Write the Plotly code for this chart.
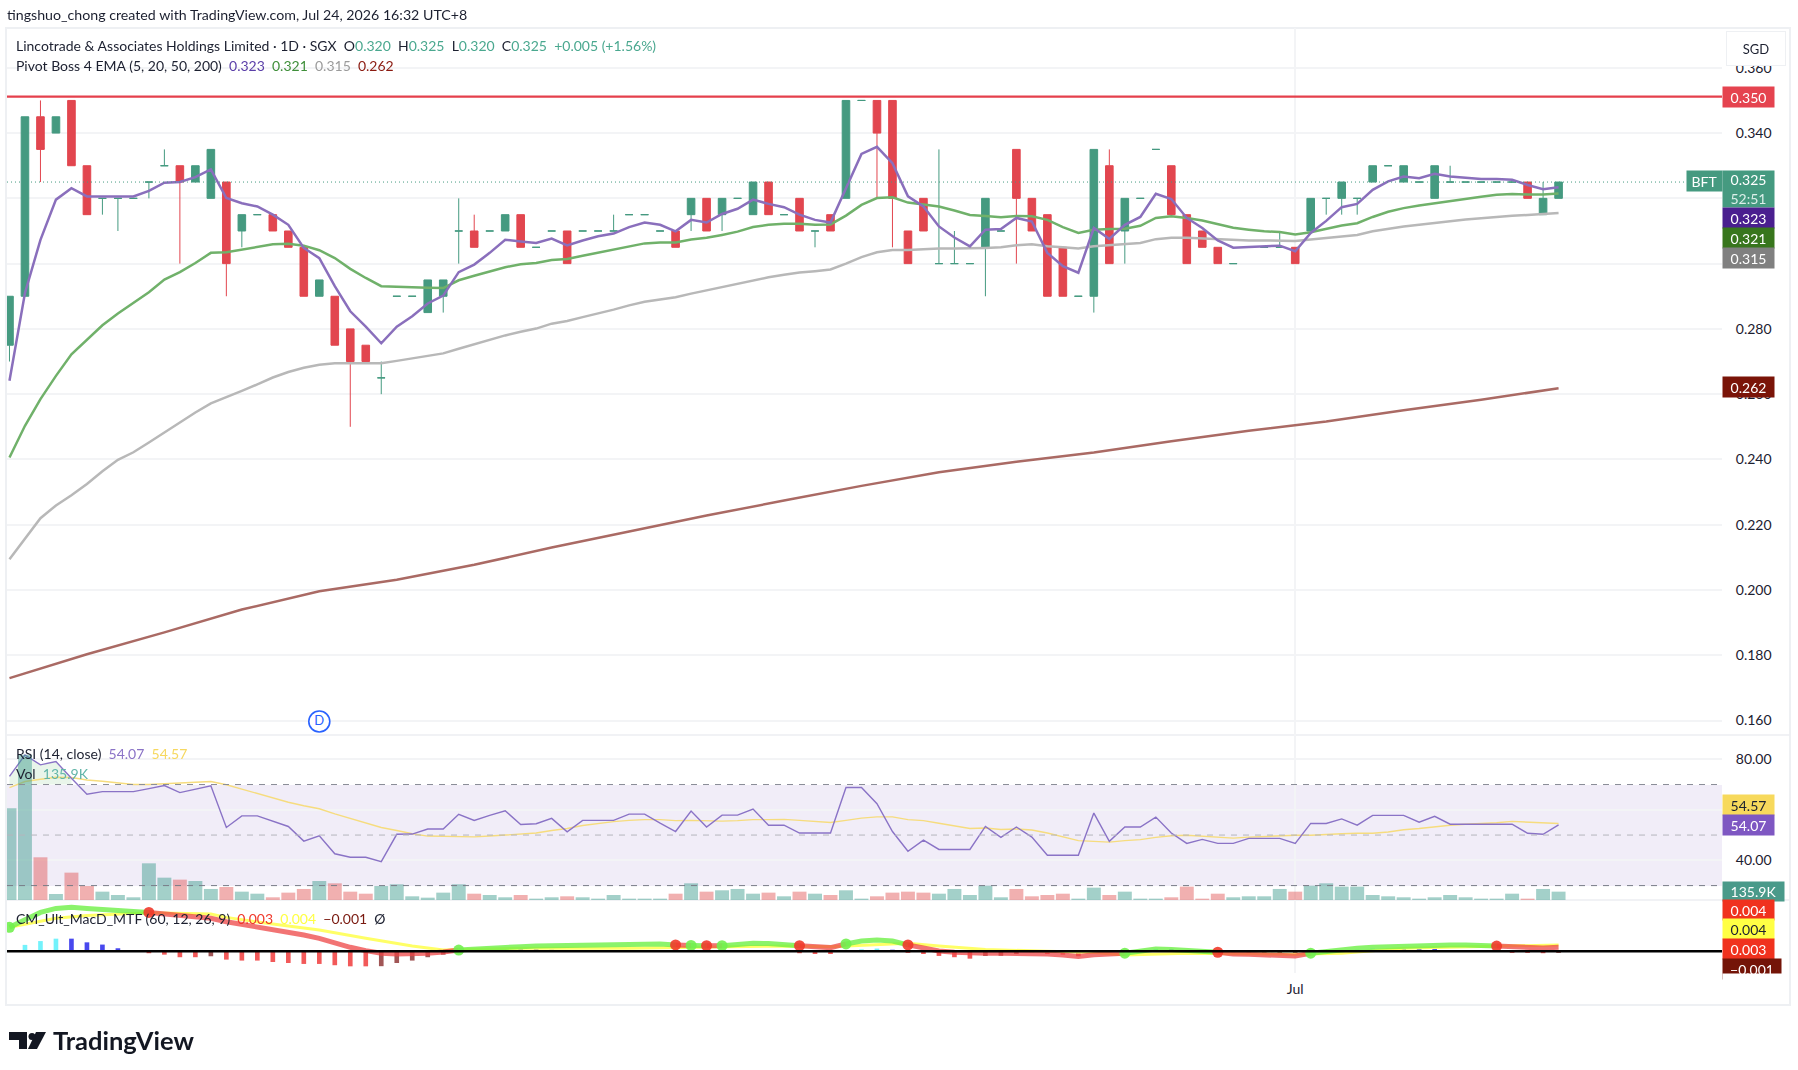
import plotly.graph_objects as go

# ---------- data ----------
opens = [.275,.29,.345,.34,.35,.33,.32,.32,.32,.325,.33,.33,.325,.32,.325,.31,.315,.315,.31,.305,
         .29,.29,.28,.275,.265,.29,.29,.285,.29,.31,.31,.31,.31,.315,.305,.31,.31,.31,.31,.31,
         .315,.315,.31,.31,.315,.32,.315,.32,.315,.325,.315,.32,.31,.315,.32,.35,.35,.35,.31,.32,
         .30,.30,.30,.305,.31,.335,.32,.315,.305,.29,.29,.33,.31,.32,.335,.33,.315,.31,.305,.30,
         .305,.305,.305,.305,.31,.32,.32,.32,.325,.33,.325,.325,.32,.325,.325,.325,.325,.325,.325,.315,.32]
highs = [.29,.345,.35,.345,.35,.33,.32,.32,.32,.325,.335,.33,.33,.335,.325,.315,.315,.315,.31,.305,
         .295,.29,.28,.275,.27,.29,.29,.295,.295,.32,.315,.31,.315,.315,.305,.31,.31,.31,.31,.315,
         .315,.315,.31,.31,.32,.32,.32,.32,.325,.325,.315,.32,.31,.315,.35,.35,.35,.35,.31,.32,
         .335,.31,.30,.32,.31,.335,.32,.315,.305,.29,.335,.335,.32,.32,.335,.33,.315,.31,.305,.30,
         .305,.305,.31,.305,.32,.32,.325,.32,.33,.33,.33,.325,.33,.33,.325,.325,.325,.325,.325,.325,.325]
lows = [.27,.29,.325,.34,.33,.315,.315,.31,.32,.32,.33,.30,.325,.32,.29,.305,.315,.31,.305,.29,
        .29,.275,.25,.27,.26,.29,.29,.285,.285,.30,.305,.31,.31,.305,.305,.31,.30,.31,.31,.31,
        .315,.315,.31,.305,.31,.31,.31,.32,.315,.315,.315,.31,.305,.31,.32,.35,.32,.305,.30,.31,
        .30,.30,.30,.29,.31,.30,.31,.29,.29,.29,.285,.30,.30,.32,.335,.315,.30,.305,.30,.30,
        .305,.305,.305,.30,.31,.315,.315,.315,.325,.33,.325,.325,.32,.325,.325,.325,.325,.325,.32,.315,.32]
closes = [.29,.345,.335,.345,.33,.315,.32,.32,.32,.325,.33,.325,.33,.335,.30,.315,.315,.31,.305,.29,
          .295,.275,.27,.27,.265,.29,.29,.295,.295,.31,.305,.31,.315,.305,.305,.31,.30,.31,.31,.31,
          .315,.315,.31,.305,.32,.31,.32,.32,.325,.315,.315,.31,.31,.31,.35,.35,.34,.32,.30,.31,
          .30,.30,.30,.32,.31,.32,.31,.29,.29,.29,.335,.30,.32,.32,.335,.315,.30,.305,.30,.30,
          .305,.305,.305,.30,.32,.32,.325,.32,.33,.33,.33,.325,.33,.325,.325,.325,.325,.325,.32,.32,.325]

ema5 = [.2641,.2910,.3073,.3196,.3231,.3206,.3206,.3206,.3206,.3223,.3248,.3250,.3265,.3289,.3201,.3185,.3175,.3150,.3119,.3048,
        .3017,.2931,.2854,.2807,.2756,.2807,.2839,.2878,.2902,.2974,.2997,.3033,.3073,.3068,.3063,.3077,.3056,.3071,.3084,.3092,
        .3112,.3126,.3119,.3099,.3134,.3126,.3152,.3168,.3196,.3183,.3173,.3150,.3134,.3126,.3231,.3336,.3358,.3308,.3206,.3175,
        .3114,.3080,.3053,.3104,.3106,.3140,.3129,.3033,.2992,.2972,.3109,.3076,.3119,.3143,.3214,.3198,.3140,.3109,.3071,.3049,
        .3051,.3053,.3055,.3038,.3094,.3131,.3173,.3183,.3226,.3252,.3267,.3262,.3275,.3267,.3262,.3259,.3259,.3257,.3241,.3228,.3234]
ema20 = [.2406,.2503,.2585,.2656,.2722,.2768,.2811,.2847,.2880,.2912,.2951,.2974,.3002,.3033,.3035,.3043,.3053,.3059,.3061,.3055,
         .3041,.3017,.2984,.2956,.2931,.2929,.2926,.2926,.2925,.2949,.2963,.2977,.2989,.2998,.3002,.3011,.3014,.3024,.3033,.3043,
         .3053,.3062,.3065,.3065,.3074,.3079,.3088,.3098,.3112,.3119,.3122,.3122,.3119,.3120,.3147,.3180,.3201,.3203,.3187,.3182,
         .3175,.3163,.3149,.3146,.3142,.3146,.3145,.3134,.3112,.3094,.3104,.3106,.3107,.3116,.3140,.3145,.3140,.3132,.3120,.3110,
         .3104,.3099,.3097,.3089,.3096,.3106,.3117,.3124,.3143,.3159,.3170,.3178,.3185,.3193,.3199,.3205,.3211,.3213,.3212,.3212,.3215]
ema50 = [.2094,.2157,.2220,.2259,.2290,.2325,.2364,.2399,.2422,.2452,.2483,.2513,.2544,.2572,.2590,.2610,.2630,.2651,.2668,.2681,
         .2690,.2695,.2695,.2695,.2695,.2702,.2709,.2717,.2725,.2739,.2753,.2766,.2780,.2791,.2801,.2816,.2824,.2836,.2847,.2859,
         .2872,.2883,.2890,.2897,.2908,.2918,.2928,.2938,.2949,.2958,.2966,.2973,.2977,.2982,.3000,.3020,.3035,.3042,.3042,.3045,
         .3046,.3046,.3046,.3048,.3050,.3056,.3059,.3053,.3050,.3046,.3053,.3056,.3058,.3063,.3075,.3079,.3079,.3077,.3073,.3071,
         .3071,.3071,.3071,.3069,.3074,.3079,.3084,.3088,.3099,.3107,.3114,.3119,.3125,.3131,.3135,.3139,.3144,.3147,.3149,.3152,.3155]
ema200_bars = list(range(0, 101, 5))
ema200 = [.1730,.1803,.1870,.1940,.1996,.2031,.2077,.2130,.2179,.2228,.2274,.2319,.2361,.2393,.2421,.2456,.2488,.2516,.2551,.2583,.2618]

rsi = [73.2,81.7,77.8,79.1,72.5,66.2,67.2,67.2,67.2,68.4,69.6,66.8,68.3,69.5,53.0,57.6,57.6,55.4,53.4,47.6,
       49.7,42.6,41.2,41.2,39.5,50.3,50.4,52.4,52.4,58.2,55.8,57.8,59.6,54.2,54.5,56.6,51.3,55.8,55.8,55.8,
       58.3,58.3,54.7,51.4,59.5,53.2,57.9,57.9,60.3,53.9,53.9,50.8,50.8,50.8,68.8,68.8,62.4,51.4,43.6,48.0,
       44.3,44.3,44.3,53.4,49.1,53.2,49.2,42.0,42.0,42.0,58.7,47.5,53.2,53.2,57.1,50.8,46.7,48.3,46.7,46.7,
       48.7,48.7,48.7,46.7,54.6,54.6,56.4,53.9,57.8,57.8,57.8,55.1,57.4,54.3,54.3,54.2,54.3,54.3,50.7,50.3,54.07]
rsi_ma = [68.8,71.2,72.1,72.9,72.8,71.8,71.3,70.5,70.0,70.0,70.3,70.5,70.8,71.2,69.9,68.2,66.3,64.6,63.0,61.6,
          60.4,58.4,56.7,54.7,53.0,51.8,50.5,49.6,49.5,49.3,49.3,49.6,50.0,50.5,50.8,51.8,52.6,53.8,54.7,55.3,
          55.8,56.1,56.1,55.7,55.8,55.5,55.5,55.7,56.1,56.1,56.2,55.8,55.4,55.0,55.8,56.7,57.2,57.2,56.1,55.7,
          54.7,53.7,52.6,52.8,52.2,52.4,52.0,50.8,49.2,47.8,47.5,47.2,47.8,48.2,49.1,49.7,49.9,49.5,49.1,48.8,
          49.2,49.5,49.7,49.9,49.9,50.3,50.5,50.7,50.7,51.2,52.1,52.6,53.3,53.9,54.3,54.5,54.9,55.4,55.1,54.9,54.57]
volume_k = [1496,2366,696,98,446,228,136,82,44,598,364,332,310,180,212,136,103,44,120,180,
            310,272,136,103,228,256,60,38,120,256,103,82,44,82,22,44,60,44,22,82,
            22,22,22,103,272,136,158,180,103,120,60,136,103,82,158,22,60,120,136,120,
            103,180,82,234,44,180,60,82,103,22,201,82,136,22,22,44,218,22,103,44,
            60,60,180,136,234,272,218,218,82,60,44,22,44,82,44,22,22,103,22,180,135.9]
macd = [.0150,.0196,.0243,.0268,.0275,.0268,.0262,.0256,.0248,.0243,.0233,.0225,.0216,.0206,.0185,.0168,.0154,.0139,.0123,.0102,
        .0081,.0050,.0025,.0004,-.0012,-.0017,-.0017,-.0012,-.0004,.0008,.0015,.0019,.0025,.0029,.0033,.0035,.0033,.0033,.0035,.0037,
        .0042,.0044,.0046,.0040,.0037,.0035,.0035,.0044,.0050,.0048,.0044,.0035,.0029,.0023,.0046,.0064,.0071,.0064,.0040,.0019,
        .0002,-.0006,-.0012,-.0012,-.0012,-.0012,-.0012,-.0017,-.0023,-.0033,-.0021,-.0019,-.0012,.0002,.0015,.0012,.0008,.0002,-.0006,-.0017,
        -.0019,-.0023,-.0025,-.0029,-.0012,0,.0012,.0019,.0025,.0029,.0033,.0037,.0040,.0040,.0040,.0037,.0033,.0029,.0025,.0021,.0025]
signal_bars = [0,3,5,9,13,14,16,20,23,26,28,33,40,44,50,53,58,60,63,67,70,72,76,83,86,90,96,100]
signal = [.0150,.0206,.0223,.0241,.0233,.0212,.0183,.0133,.0081,.0033,.0008,.0019,.0019,.0025,.0033,.0029,.0050,.0033,.0012,0,-.0008,-.0023,-.0012,-.0019,-.0012,.0019,.0029,.0040]
hist = [0,.0040,.0064,.0079,.0079,.0056,.0042,.0019,0,-.0012,-.0021,-.0037,-.0037,-.0031,-.0052,-.0058,-.0058,-.0067,-.0073,-.0079,
        -.0079,-.0087,-.0094,-.0094,-.0093,-.0073,-.0058,-.0037,-.0021,0,0,.0012,.0021,.0021,.0017,.0010,0,0,0,0,
        0,0,0,0,0,0,0,0,0,0,0,-.0012,-.0017,-.0017,0,.0012,.0017,.0010,-.0010,-.0017,
        -.0029,-.0037,-.0046,-.0029,-.0028,-.0017,-.0006,-.0017,-.0021,-.0031,-.0010,-.0006,0,0,.0015,.0012,0,0,-.0017,-.0018,
        -.0019,-.0018,-.0017,-.0016,0,0,.0008,.0010,.0017,.0021,.0020,.0019,.0017,.0008,0,0,-.0004,-.0010,-.0010,-.0012,-.0010]
cross_bars = [0,9,29,43,44,45,46,51,54,58,72,78,84,96]
cross_up = [1,0,1,0,1,0,1,0,1,0,1,0,1,0]
y_ticks_price = [.36,.34,.32,.30,.28,.26,.24,.22,.20,.18,.16]
y_labels_price = ["0.360","0.340","","","0.280","0.260","0.240","0.220","0.200","0.180","0.160"]
rsi_ticks = [80,60,40]
rsi_labels = ["80.00","","40.00"]
jul_bar = 83

GREEN, RED = "#459a80", "#e2464f"
bars = list(range(len(closes)))
W, H = 1798, 1070
fx = lambda p: p / W
fy = lambda p: 1 - p / H
FONT = "Lato"
TXT = "#1c2030"
RIGHT = 1722

fig = go.Figure()

# ---------- candles ----------
up = [i for i in bars if closes[i] >= opens[i]]
dn = [i for i in bars if closes[i] < opens[i]]
for idx, c in ((up, GREEN), (dn, RED)):
    fig.add_trace(go.Candlestick(
        x=idx, open=[opens[i] for i in idx], high=[highs[i] for i in idx],
        low=[lows[i] for i in idx], close=[closes[i] for i in idx],
        increasing=dict(line=dict(color=c, width=1), fillcolor=c),
        decreasing=dict(line=dict(color=c, width=1), fillcolor=c),
        whiskerwidth=0, showlegend=False, hoverinfo="skip", xaxis="x", yaxis="y"))
# ---------- EMAs ----------
for xs, ys, c in ((bars, ema50, "#b8b8b8"), (bars, ema20, "#70b16a"),
                  (bars, ema5, "#8a6fbc"), (ema200_bars, ema200, "#aa6a64")):
    fig.add_trace(go.Scatter(x=xs, y=ys, mode="lines", line=dict(color=c, width=2.5),
                             showlegend=False, hoverinfo="skip", xaxis="x", yaxis="y"))
# dividend marker
fig.add_trace(go.Scatter(x=[20], y=[.1597], mode="markers+text", text=["D"], textposition="middle center",
                         textfont=dict(color="#2962ff", size=13, family=FONT),
                         marker=dict(size=21, color="white", line=dict(color="#2962ff", width=1.6)),
                         showlegend=False, hoverinfo="skip", xaxis="x", yaxis="y"))

# ---------- RSI + volume ----------
fig.add_trace(go.Scatter(x=bars[:5] + [4, 0], y=rsi[:5] + [70, 70], fill="toself", mode="none",
                         fillcolor="rgba(76,175,80,0.12)", showlegend=False, hoverinfo="skip", xaxis="x", yaxis="y2"))
vol_colors = ["rgba(50,150,135,0.45)" if closes[i] >= opens[i] else "rgba(224,80,80,0.45)" for i in bars]
fig.add_trace(go.Bar(x=bars, y=volume_k, marker=dict(color=vol_colors, line=dict(width=0)), width=0.9,
                     showlegend=False, hoverinfo="skip", xaxis="x", yaxis="y5"))
fig.add_trace(go.Scatter(x=bars, y=rsi_ma, mode="lines", line=dict(color="#f6dc7e", width=1.4),
                         showlegend=False, hoverinfo="skip", xaxis="x", yaxis="y2"))
fig.add_trace(go.Scatter(x=bars, y=rsi, mode="lines", line=dict(color="#8a73c6", width=1.4),
                         showlegend=False, hoverinfo="skip", xaxis="x", yaxis="y2"))

# ---------- MACD ----------
hist_colors = []
for i, v in enumerate(hist):
    p = hist[i - 1] if i else 0
    if v >= 0:
        hist_colors.append("rgba(90,240,250,0.85)" if v > p else "rgba(40,40,235,0.85)")
    else:
        hist_colors.append("rgba(130,30,30,0.75)" if v > p else "rgba(240,60,60,0.85)")
fig.add_trace(go.Bar(x=bars, y=hist, marker=dict(color=hist_colors, line=dict(width=0)), width=0.3,
                     showlegend=False, hoverinfo="skip", xaxis="x", yaxis="y3"))
fig.add_trace(go.Scatter(x=signal_bars, y=signal, mode="lines", line=dict(color="#ffff66", width=3),
                         showlegend=False, hoverinfo="skip", xaxis="x", yaxis="y3"))
seg_ends = cross_bars + [bars[-1]]
for j, start in enumerate(cross_bars):
    seg = list(range(start, seg_ends[j + 1] + 1))
    col = "rgba(110,240,70,0.8)" if cross_up[j] else "rgba(238,70,70,0.75)"
    fig.add_trace(go.Scatter(x=seg, y=[macd[i] for i in seg], mode="lines", line=dict(color=col, width=5),
                             showlegend=False, hoverinfo="skip", xaxis="x", yaxis="y3"))
fig.add_trace(go.Scatter(x=cross_bars, y=[macd[i] for i in cross_bars], mode="markers",
                         marker=dict(size=11, color=["#72f050" if u else "#f0392b" for u in cross_up]),
                         opacity=0.9, showlegend=False, hoverinfo="skip", xaxis="x", yaxis="y3"))

# ---------- shapes ----------
shapes = []
def rect(x0, y0, x1, y1, line=None, fill=None, lw=1, layer="below"):
    shapes.append(dict(type="rect", xref="paper", yref="paper", x0=fx(x0), x1=fx(x1), y0=fy(y0), y1=fy(y1),
                       line=dict(color=line or "rgba(0,0,0,0)", width=lw), fillcolor=fill or "rgba(0,0,0,0)", layer=layer))
def hline(y, yref, x1=RIGHT, x0=7, color="#999", width=1, dash="solid", layer="below"):
    shapes.append(dict(type="line", xref="paper", yref=yref, x0=fx(x0), x1=fx(x1), y0=y, y1=y,
                       line=dict(color=color, width=width, dash=dash), layer=layer))
rect(6, 28, 1790, 1005, line="#eef0f3", lw=2)
rect(7, 785, RIGHT, 886, fill="rgba(126,87,194,0.11)")
hline(70, "y2", color="#8a8d97", width=1, dash="6px,6px", layer="above")
hline(50, "y2", color="#b4b5bc", width=1, dash="6px,6px", layer="above")
hline(30, "y2", color="#787b86", width=1, dash="6px,6px", layer="above")
hline(.3512, "y", color="#e5404c", width=2.2, layer="above")
hline(.325, "y", x1=1686, color=GREEN, width=1, dash="1px,3px", layer="above")
hline(0, "y3", color="#000000", width=2.4, layer="above")
for py in (735, 900):
    shapes.append(dict(type="line", xref="paper", yref="paper", x0=fx(7), x1=fx(1790), y0=fy(py), y1=fy(py),
                       line=dict(color="#eceef2", width=1.5), layer="below"))
# TradingView logo
def poly(pts):
    return "M " + " L ".join(f"{fx(a):.5f},{fy(b):.5f}" for a, b in pts) + " Z"
for pts in ([(9, 1032), (27, 1032), (27, 1049), (19, 1049), (19, 1040), (9, 1040)],
            [(36, 1032), (46, 1032), (37, 1049), (28, 1049)]):
    shapes.append(dict(type="path", xref="paper", yref="paper", path=poly(pts), fillcolor="#131722", line=dict(width=0)))
shapes.append(dict(type="circle", xref="paper", yref="paper", x0=fx(28.5), x1=fx(35.5), y0=fy(1040), y1=fy(1033),
                   fillcolor="#131722", line=dict(width=0)))

# ---------- text ----------
ann = []
def text(px, py, s, size=14, color=TXT, family=FONT):
    ann.append(dict(xref="paper", yref="paper", x=fx(px), y=fy(py), xanchor="left", yanchor="middle",
                    text=s, showarrow=False, font=dict(size=size, color=color, family=family)))
def span(c, s):
    return f'<span style="color:{c}">{s}</span>'
T = "#4aa88f"
text(5, 14, "tingshuo_chong created with TradingView.com, Jul 24, 2026 16:32 UTC+8", size=14.2)
text(14, 46, "Lincotrade &amp; Associates Holdings Limited · 1D · SGX  O" + span(T, "0.320") + "  H" + span(T, "0.325") +
     "  L" + span(T, "0.320") + "  C" + span(T, "0.325") + "  " + span(T, "+0.005 (+1.56%)"))
text(14, 66, "Pivot Boss 4 EMA (5, 20, 50, 200)  " + span("#5a3ea8", "0.323") + "  " + span("#3f8f3a", "0.321") + "  " +
     span("#9b9b9b", "0.315") + "  " + span("#8b1a10", "0.262"))
text(14, 753, "RSI (14, close)  " + span("#8a73c6", "54.07") + "  " + span("#f6d860", "54.57"))
text(14, 773, "Vol  " + span("#62b5a8", "135.9K"))
text(14, 918, "CM_Ult_MacD_MTF (60, 12, 26, 9)  " + span("#f0392b", "0.003") + "  " + span("#ffff44", "0.004") + "  " +
     span("#7a1a10", "−0.001") + "  Ø")
text(51, 1040, "<b>TradingView</b>", size=25.5, color="#131722")

def lab(s, yc, bg, fc="#ffffff", w=51, h=20, x=RIGHT):
    ann.append(dict(xref="paper", yref="paper", x=fx(x), y=fy(yc), xanchor="left", yanchor="middle", text=s, showarrow=False,
                    width=w, height=h, bgcolor=bg, borderpad=0, align="center", font=dict(size=14, color=fc, family=FONT)))
lab("0.350", 97, "#e5434f")
lab("BFT", 181, GREEN, w=35, x=RIGHT - 36)
lab('0.325<br><span style="color:#dcefe9">52:51</span>', 189, GREEN, h=36)
lab("0.323", 217.5, "#4a1f8f")
lab("0.321", 238, "#38761d")
lab("0.315", 258, "#808080")
lab("0.262", 387, "#7a1408")
lab("54.57", 805, "#f7d95c", fc=TXT)
lab("54.07", 825, "#7e57c2")
lab("135.9K", 891, "#4a9a8a", w=61, h=19)
lab("0.004", 909.5, "#f0321e")
lab("0.004", 929, "#ffff44", fc=TXT)
lab("0.003", 949, "#f0321e")
lab("−0.001", 969, "#741408", w=58, h=20)
ann.append(dict(xref="paper", yref="paper", x=fx(RIGHT), y=fy(973), xanchor="left", yanchor="top", text=" ", showarrow=False,
                width=62, height=12, bgcolor="#ffffff", borderpad=0))
ann.append(dict(xref="paper", yref="paper", x=fx(1726), y=fy(49), xanchor="left", yanchor="middle", text="SGD", showarrow=False,
                width=58, height=33, bgcolor="#ffffff", bordercolor="#eef0f3", borderwidth=1, borderpad=0,
                font=dict(size=13, color=TXT, family=FONT)))

# ---------- axes ----------
tick = dict(size=14, color=TXT, family=FONT)
GRID = "#f3f4f6"
yc = dict(side="right", showline=False, zeroline=False, gridcolor=GRID, gridwidth=1.5, ticks="outside", ticklen=10,
          tickcolor="rgba(0,0,0,0)", tickfont=tick, anchor="x")
fig.update_layout(
    width=W, height=H, margin=dict(l=0, r=0, t=0, b=0), paper_bgcolor="white", plot_bgcolor="white",
    barmode="overlay", boxmode="overlay", showlegend=False, shapes=shapes, annotations=ann, hovermode=False,
    xaxis=dict(domain=[fx(7), fx(RIGHT)], range=[-0.16, 110.55], anchor="y3", tickmode="array", tickvals=[jul_bar], ticktext=["Jul"],
               tickfont=tick, ticks="outside", ticklen=3, tickcolor="rgba(0,0,0,0)", gridcolor=GRID, gridwidth=1.5, showline=False,
               zeroline=False, rangeslider=dict(visible=False)),
    yaxis=dict(domain=[fy(735), fy(28)], range=[.15556, .3722], tickmode="array", tickvals=y_ticks_price,
               ticktext=y_labels_price, **yc),
    yaxis2=dict(domain=[fy(900), fy(735)], range=[24.3, 89.6], tickmode="array", tickvals=rsi_ticks,
                ticktext=rsi_labels, **yc),
    yaxis3=dict(domain=[fy(973), fy(900)], range=[-.01356, .03206], showticklabels=False, showgrid=False, zeroline=False,
                side="right", anchor="x"),
    yaxis5=dict(overlaying="y2", range=[0, 2690], visible=False, anchor="x"),
)
fig.write_html("out.html", config=dict(displayModeBar=False), post_script="document.body.style.margin='0';")
